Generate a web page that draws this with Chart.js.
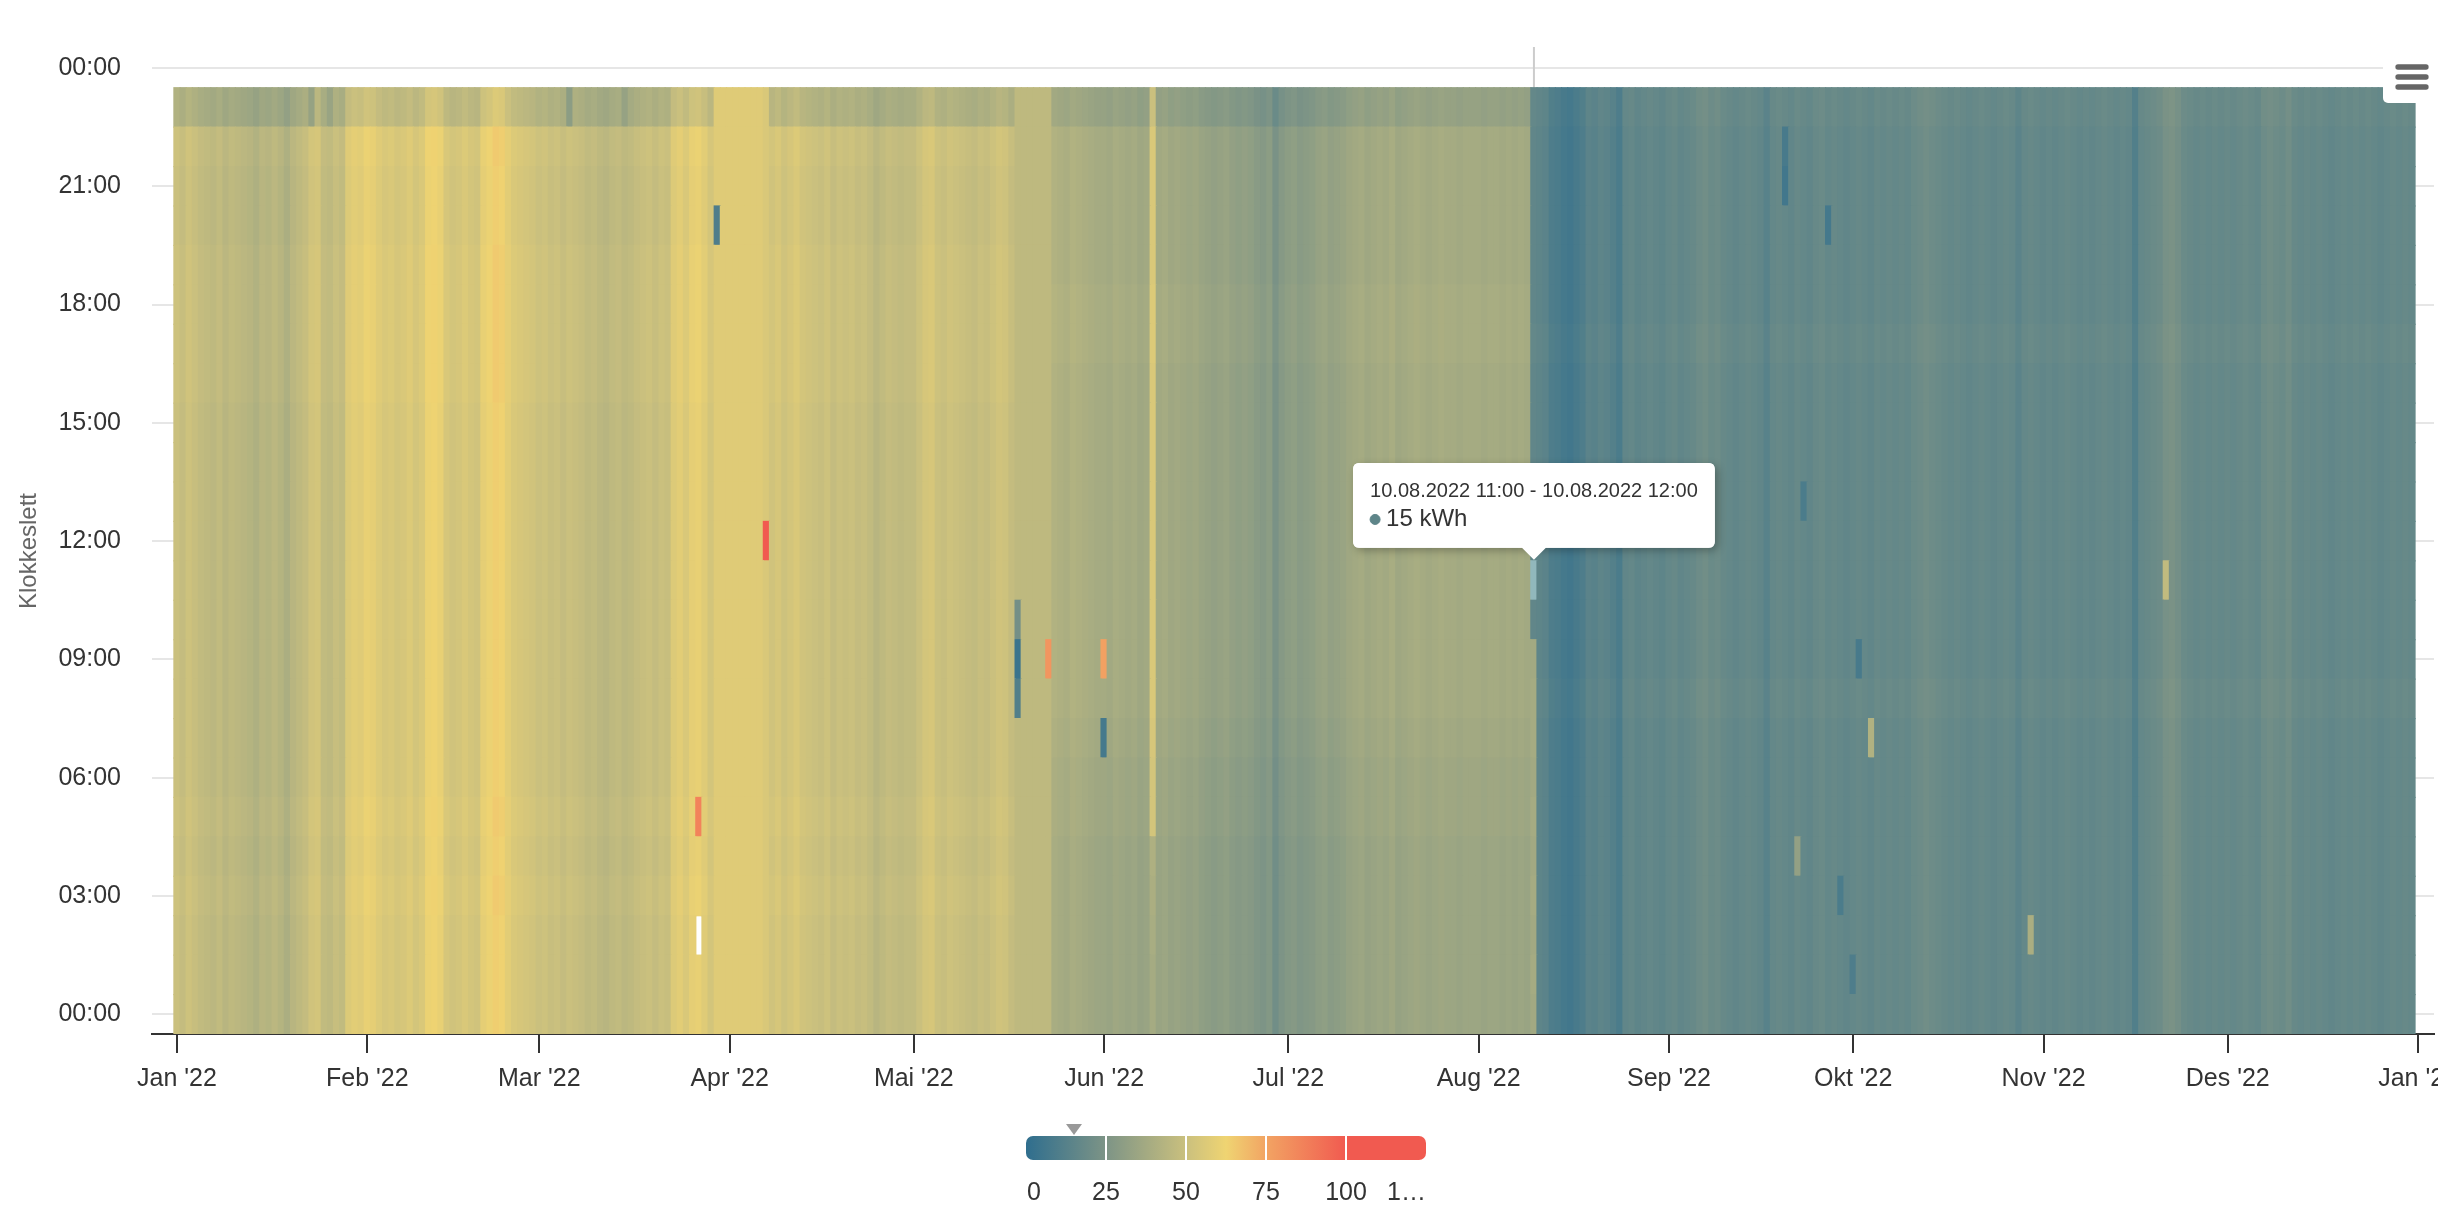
<!DOCTYPE html>
<html>
<head>
<meta charset="utf-8">
<title>Forbruk per time 2022</title>
<script src="https://cdn.jsdelivr.net/npm/chart.js@4.4.1/dist/chart.umd.min.js"></script>
<style>
  html, body { margin: 0; padding: 0; background: #fff; overflow: hidden; }
  #wrap { position: relative; width: 2438px; height: 1214px; }
</style>
</head>
<body>
<div id="wrap"><canvas id="heat"></canvas></div>
<script>
// axis labels
const monthLabels = ["Jan '22", "Feb '22", "Mar '22", "Apr '22", "Mai '22", "Jun '22",
  "Jul '22", "Aug '22", "Sep '22", "Okt '22", "Nov '22", "Des '22", "Jan '23"];
const monthStart = [0, 31, 59, 90, 120, 151, 181, 212, 243, 273, 304, 334, 365];
const hourTicks = [0, 3, 6, 9, 12, 15, 18, 21, 24];
const keyTicks = [0, 25, 50, 75, 100, 125];

// typical kWh of each day (read column by column)
const dailyLevel = [
  // jan
  50,48,51,49,47,46,45,47,44,46,45,44,43,41,44,43,45,43,40,44,46,48,52,53,47,46,49,47,56,58,57,
  // feb
  60,59,56,54,55,53,54,56,53,55,61,62,60,54,52,53,55,53,52,59,61,64,63,58,55,54,53,52,
  // mar
  50,51,49,50,48,50,49,48,46,47,45,44,46,47,45,46,48,49,50,48,50,49,56,58,55,59,60,57,53,57,57,
  // apr
  57,57,57,57,57,57,55,52,54,51,53,55,52,51,50,49,51,48,50,49,50,48,49,47,44,46,48,47,46,47,
  // mai
  47,50,53,54,50,49,51,50,49,48,47,49,48,50,52,51,48,46,46,46,46,46,46,42,41,40,42,41,40,39,38,
  // jun
  38,37,39,38,37,38,36,37,55,37,38,36,37,36,35,36,34,33,32,33,34,32,31,32,31,29,28,30,24,28,
  // jul
  30,31,29,30,31,33,34,32,33,34,36,37,38,36,37,38,37,39,36,37,38,39,38,37,38,39,38,38,37,38,38,
  // aug
  38,37,38,38,37,38,37,38,37,16,15,14,10,9,7,6,8,10,14,13,15,14,12,9,16,17,15,16,17,16,15,
  // sep
  17,18,16,17,18,20,21,19,20,18,17,16,17,18,17,16,13,17,18,17,16,18,17,16,18,19,17,18,17,16,
  // okt
  17,18,17,16,18,17,18,17,18,17,19,20,21,20,19,18,17,18,17,16,17,18,17,16,17,18,17,14,17,18,17,
  // nov
  16,17,16,17,18,17,16,17,16,17,18,17,16,17,16,11,17,18,19,20,23,24,22,19,18,17,18,17,18,17,
  // des
  18,17,18,19,18,17,20,21,20,19,21,18,17,18,17,18,17,16,17,18,17,18,17,18,17,16,17,18,17,18,17
];

// hour-of-day correction per season (h0 .. h23)
const winterShift = [0,0,0,1,0,1,0,0,0,0,0,0,0,0,0,0,1,1,1,1,0,0,1,-8];
const summerShift = [-3,-3,-3,-3,-3,-2,-2,-1,0,0,0,0,0,0,0,0,0,1,1,0,0,0,0,-5];
const autumnShift = [0,0,0,0,0,0,0,0,1,0,0,0,0,0,0,0,0,1,0,0,0,0,0,1];

// days with a flat (filled) profile
const flatDays = [88, 89, 90, 91, 92, 93, 94, 95, 96, 137, 138, 139, 140, 141, 142];

// single hours that stand out: [day, hour, kWh]
const oddCells = [
  [22,23,33],[25,23,34],[64,23,30],[73,23,33],
  [85,5,86],[85,2,null],[88,20,10],[96,12,106],
  [137,10,22],[137,9,4],[137,8,11],[142,9,80],[151,9,76],[151,7,7],
  [159,0,38],[159,1,38],[159,2,39],[159,3,40],[159,4,41],
  [221,0,37],[221,1,38],[221,2,37],[221,3,38],[221,4,37],
  [221,5,38],[221,6,37],[221,7,38],[221,8,38],[221,9,37],
  [221,11,15],[262,21,6],[262,22,8],[264,4,32],[265,13,9],[269,20,7],
  [271,3,9],[273,1,10],[274,9,8],[276,7,42],[302,2,40],[324,11,47]
];

const tipDay = 221, tipHour = 11;

const colorStops = [[0,'#2f6e8e'],[25,'#7d9486'],[50,'#cac07e'],[62.5,'#efd472'],[75,'#f2a463'],[100,'#f15a50'],[125,'#f15a50']];

function hexRgb(h) {
  return [parseInt(h.slice(1,3),16), parseInt(h.slice(3,5),16), parseInt(h.slice(5,7),16)];
}
function colorFor(v, lift) {
  lift = lift || 0;
  let i = 0;
  while (i < colorStops.length - 2 && v > colorStops[i+1][0]) i++;
  const a = colorStops[i], b = colorStops[i+1];
  const t = Math.max(0, Math.min(1, (v - a[0]) / (b[0] - a[0])));
  const ca = hexRgb(a[1]), cb = hexRgb(b[1]);
  const c = ca.map((x, k) => Math.min(255, Math.round(x + (cb[k] - x) * t + lift)));
  return 'rgb(' + c.join(',') + ')';
}

function cellValue(d, h) {
  const odd = oddCells.find(c => c[0] === d && c[1] === h);
  if (odd) return odd[2];
  let shift = 0;
  if (!flatDays.includes(d)) {
    shift = d < 137 ? winterShift[h] : (d < 221 ? summerShift[h] : autumnShift[h]);
  }
  return dailyLevel[d] + shift;
}

const datasets = [];
for (let h = 0; h < 24; h++) {
  const rows = [];
  for (let d = 0; d < dailyLevel.length; d++) {
    const v = cellValue(d, h);
    if (v === null) continue;
    rows.push({ x: d, y: [h - 0.5, h + 0.5], v: v });
  }
  datasets.push({
    label: 'h' + h,
    data: rows,
    grouped: false,
    barPercentage: 1,
    categoryPercentage: 1,
    inflateAmount: 0.6,
    borderWidth: 0,
    backgroundColor: c => colorFor(c.raw.v),
    hoverBackgroundColor: c => colorFor(c.raw.v, 51)
  });
}

function pad2(n) { return String(n).padStart(2, '0'); }
function stamp(d, h) {
  const dt = new Date(2022, 0, 1 + d);
  return pad2(dt.getDate()) + '.' + pad2(dt.getMonth() + 1) + '.' + dt.getFullYear() + ' ' + pad2(h) + ':00';
}

Chart.defaults.font.family = "'Liberation Sans', Arial, Helvetica, sans-serif";
Chart.Tooltip.positioners.cellTop = function (items) {
  if (!items.length) return false;
  const el = items[0].element;
  return { x: el.x, y: Math.min(el.y, el.base) };
};

const crosshair = {
  id: 'crosshair',
  beforeDatasetsDraw(chart) {
    const c = chart.ctx;
    const x = chart.scales.x.getPixelForValue(tipDay);
    c.save();
    c.strokeStyle = '#cccccc';
    c.lineWidth = 2;
    c.beginPath();
    c.moveTo(x, 47);
    c.lineTo(x, chart.chartArea.bottom);
    c.stroke();
    c.restore();
  }
};

const tipShadow = {
  id: 'tipShadow',
  beforeTooltipDraw(chart, args) {
    const t = args.tooltip;
    if (!t.opacity) return;
    const c = chart.ctx;
    c.save();
    c.shadowColor = 'rgba(0,0,0,0.28)';
    c.shadowBlur = 9;
    c.shadowOffsetX = 3;
    c.shadowOffsetY = 3;
    c.fillStyle = '#fff';
    c.beginPath();
    c.roundRect(t.x, t.y, t.width, t.height, 6);
    c.fill();
    c.restore();
  }
};

const colorKey = {
  id: 'colorKey',
  afterDraw(chart) {
    const c = chart.ctx;
    const x0 = 1026, x1 = 1426, y0 = 1136, hgt = 24;
    const unit = (x1 - x0) / 125;
    c.save();
    const g = c.createLinearGradient(x0, 0, x1, 0);
    colorStops.forEach(s => g.addColorStop(s[0] / 125, s[1]));
    c.fillStyle = g;
    c.beginPath();
    c.roundRect(x0, y0, x1 - x0, hgt, 7);
    c.fill();
    c.strokeStyle = '#ffffff';
    c.lineWidth = 2;
    [25, 50, 75, 100].forEach(v => {
      c.beginPath();
      c.moveTo(x0 + v * unit, y0);
      c.lineTo(x0 + v * unit, y0 + hgt);
      c.stroke();
    });
    // marker for hovered value
    const mx = x0 + 15 * unit;
    c.fillStyle = '#999999';
    c.beginPath();
    c.moveTo(mx - 8, 1124);
    c.lineTo(mx + 8, 1124);
    c.lineTo(mx, 1135);
    c.closePath();
    c.fill();
    c.fillStyle = '#333333';
    c.font = "25px 'Liberation Sans', Arial, sans-serif";
    c.textBaseline = 'alphabetic';
    keyTicks.forEach((v, i) => {
      if (i === 0) { c.textAlign = 'left'; c.fillText(String(v), x0 + 1, 1200); return; }
      if (i === keyTicks.length - 1) { c.textAlign = 'right'; c.fillText('1\u2026', x1, 1200); return; }
      c.textAlign = 'center';
      c.fillText(String(v), x0 + v * unit, 1200);
    });
    // export menu button
    c.fillStyle = '#ffffff';
    c.beginPath();
    c.roundRect(2383, 36, 60, 67, [0, 0, 0, 5]);
    c.fill();
    c.strokeStyle = '#666666';
    c.lineWidth = 5.3;
    c.lineCap = 'round';
    [67, 77, 87].forEach(y => {
      c.beginPath();
      c.moveTo(2398, y);
      c.lineTo(2426, y);
      c.stroke();
    });
    c.restore();
  }
};

const chart = new Chart(document.getElementById('heat'), {
  type: 'bar',
  data: { datasets: datasets },
  options: {
    responsive: true,
    maintainAspectRatio: false,
    animation: false,
    events: [],
    layout: { padding: { top: 68, right: 4, bottom: 0, left: 0 } },
    scales: {
      x: {
        type: 'linear',
        offset: false,
        min: -4.07,
        max: 367.59,
        afterBuildTicks: s => { s.ticks = monthStart.map(v => ({ value: v })); },
        afterFit: s => { s.height = 180; s.paddingLeft = 0; s.paddingRight = 0; },
        ticks: {
          autoSkip: false,
          maxRotation: 0,
          padding: 11,
          color: '#333333',
          font: { size: 25 },
          callback: v => monthLabels[monthStart.indexOf(v)]
        },
        grid: { offset: false, drawOnChartArea: false, drawTicks: true, tickLength: 19, color: '#333333', lineWidth: 2 },
        border: { display: true, color: '#333333', width: 2 }
      },
      y: {
        type: 'linear',
        min: -0.5,
        max: 24,
        afterBuildTicks: s => { s.ticks = hourTicks.map(v => ({ value: v })); },
        afterFit: s => { s.width = 152; s.paddingTop = 0; s.paddingBottom = 0; },
        ticks: {
          padding: 31,
          color: '#333333',
          font: { size: 25 },
          callback: v => pad2(v % 24) + ':00'
        },
        grid: { color: '#e6e6e6', lineWidth: 2, drawTicks: false },
        border: { display: false },
        title: {
          display: true,
          text: 'Klokkeslett',
          color: '#666666',
          font: { size: 24 },
          padding: { top: 15, bottom: 0 }
        }
      }
    },
    plugins: {
      legend: { display: false },
      tooltip: {
        enabled: true,
        position: 'cellTop',
        xAlign: 'center',
        yAlign: 'bottom',
        backgroundColor: '#ffffff',
        titleColor: '#333333',
        bodyColor: '#333333',
        titleFont: { size: 20, weight: 'normal' },
        bodyFont: { size: 24 },
        padding: { top: 16, bottom: 14, left: 17, right: 17 },
        titleMarginBottom: 2,
        caretSize: 12,
        caretPadding: 1,
        cornerRadius: 6,
        borderWidth: 0,
        displayColors: true,
        usePointStyle: true,
        boxWidth: 10,
        boxHeight: 10,
        boxPadding: 4,
        multiKeyBackground: '#ffffff',
        callbacks: {
          title: items => {
            const d = items[0].raw.x, h = items[0].datasetIndex;
            return stamp(d, h) + ' - ' + stamp(d, h + 1);
          },
          label: item => item.raw.v + ' kWh',
          labelColor: item => ({ borderColor: colorFor(item.raw.v), backgroundColor: colorFor(item.raw.v), borderWidth: 0 }),
          labelPointStyle: () => ({ pointStyle: 'circle', rotation: 0 })
        }
      }
    }
  },
  plugins: [crosshair, tipShadow, colorKey]
});

const active = [{ datasetIndex: tipHour, index: tipDay }];
chart.setActiveElements(active);
chart.tooltip.setActiveElements(active, { x: 0, y: 0 });
chart.update();
</script>
</body>
</html>
